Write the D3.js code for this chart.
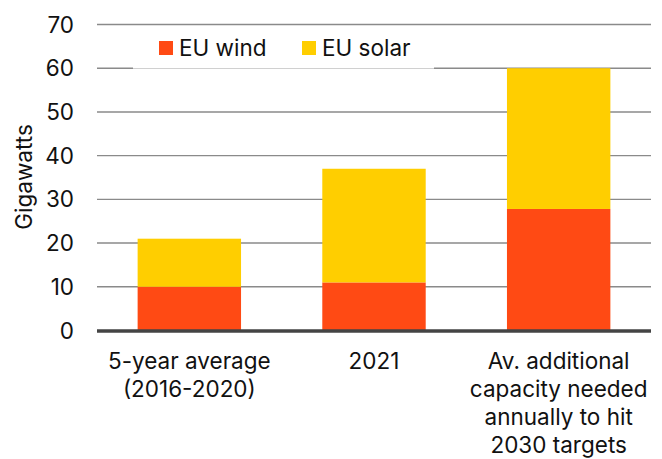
<!DOCTYPE html>
<html>
<head>
<meta charset="utf-8">
<script src="https://cdn.jsdelivr.net/npm/d3@7"></script>
<style>
  html, body { margin: 0; padding: 0; background: #fff; }
  svg { display: block; font-family: Inter, "Open Sans", "Liberation Sans", Arial, sans-serif; }
</style>
</head>
<body>
<svg id="chart" width="662" height="459"></svg>
<script>
// Annual EU capacity additions, gigawatts
const categories = [
  ["5-year average", "(2016-2020)"],
  ["2021"],
  ["Av. additional", "capacity needed", "annually to hit", "2030 targets"]
];
const windValues  = [10, 11, 27.8];
const solarValues = [11, 26, 32.2];
const seriesNames = ["EU wind", "EU solar"];
const seriesColors = ["#FF4A14", "#FFCE00"];
const yTicks = [0, 10, 20, 30, 40, 50, 60, 70];

const svg = d3.select("#chart");
const plotLeft = 97, plotRight = 651, plotTop = 24.5, plotBottom = 330.5;
const fontSize = 22.5;

const x = d3.scaleBand()
  .domain(d3.range(categories.length))
  .range([plotLeft, plotRight])
  .paddingInner(0.44)
  .paddingOuter(0.22);

const y = d3.scaleLinear().domain([0, 70]).range([plotBottom, plotTop]);

// gridlines
svg.append("g")
  .selectAll("line")
  .data(yTicks.filter(d => d > 0))
  .join("line")
  .attr("x1", plotLeft).attr("x2", plotRight)
  .attr("y1", d => y(d)).attr("y2", d => y(d))
  .attr("stroke", "#8a8a8a")
  .attr("stroke-width", 1.4);

// stacked bars
const stackData = categories.map((c, i) => ({ i, wind: windValues[i], solar: solarValues[i] }));
const stack = d3.stack().keys(["wind", "solar"])(stackData);

svg.append("g")
  .selectAll("g")
  .data(stack)
  .join("g")
  .attr("fill", (d, k) => seriesColors[k])
  .selectAll("rect")
  .data(d => d)
  .join("rect")
  .attr("x", d => x(d.data.i))
  .attr("width", x.bandwidth())
  .attr("y", d => y(d[1]))
  .attr("height", d => y(d[0]) - y(d[1]));

// baseline
svg.append("line")
  .attr("x1", plotLeft).attr("x2", plotRight)
  .attr("y1", y(0) + 0.5).attr("y2", y(0) + 0.5)
  .attr("stroke", "#444")
  .attr("stroke-width", 3.5);

// y axis tick labels
svg.append("g")
  .selectAll("text")
  .data(yTicks)
  .join("text")
  .attr("x", 74)
  .attr("y", d => y(d))
  .attr("dy", "0.36em")
  .attr("text-anchor", "end")
  .attr("font-size", fontSize)
  .attr("fill", "#111")
  .text(d => d);

// y axis title
svg.append("text")
  .attr("transform", `translate(32,177) rotate(-90)`)
  .attr("text-anchor", "middle")
  .attr("font-size", fontSize)
  .attr("fill", "#111")
  .text("Gigawatts");

// category labels
const xl = svg.append("g")
  .selectAll("text")
  .data(categories)
  .join("text")
  .attr("text-anchor", "middle")
  .attr("font-size", fontSize)
  .attr("fill", "#111");
xl.each(function(lines, i) {
  d3.select(this).selectAll("tspan")
    .data(lines)
    .join("tspan")
    .attr("x", x(i) + x.bandwidth() / 2)
    .attr("y", (d, j) => 369 + j * 28)
    .text(d => d);
});

// legend
const legend = svg.append("g");
legend.append("rect")
  .attr("x", 133).attr("y", 28).attr("width", 301).attr("height", 40)
  .attr("fill", "#fff");
legend.append("line")
  .attr("x1", 133).attr("x2", 434).attr("y1", 68.5).attr("y2", 68.5)
  .attr("stroke", "#d0d0d0").attr("stroke-width", 1);
const legendX = [159, 302];
seriesNames.forEach((name, k) => {
  legend.append("rect")
    .attr("x", legendX[k]).attr("y", 41).attr("width", 14).attr("height", 14)
    .attr("fill", seriesColors[k]);
  legend.append("text")
    .attr("x", legendX[k] + 20).attr("y", 55.5)
    .attr("font-size", fontSize)
    .attr("fill", "#111")
    .text(name);
});
</script>
</body>
</html>
